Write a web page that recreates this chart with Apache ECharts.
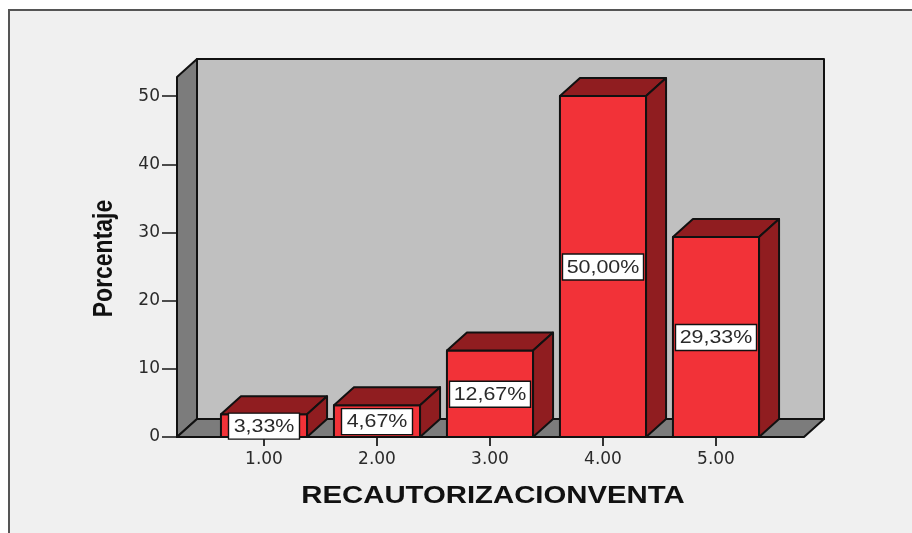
<!DOCTYPE html>
<html><head><meta charset="utf-8">
<style>html,body{margin:0;padding:0;background:#fff}#c{width:912px;height:533px}</style>
<script src="https://cdn.jsdelivr.net/npm/echarts@6/dist/echarts.min.js"></script>
</head><body><div id="c"></div>
<script>
const categories = ['1.00','2.00','3.00','4.00','5.00'];
const percentages = [3.33,4.67,12.67,50.00,29.33];
const yTicks = [0,10,20,30,40,50];
const yMax = 52.8;
const xTitle = 'RECAUTORIZACIONVENTA';
const yTitle = 'Porcentaje';

const DX = 20, DY = 18;
const LEFT_EXT = 30.5, RIGHT_EXT = 31.5, BAR_RATIO = 0.762;
const STROKE = '#111';
const line = {stroke:STROKE,lineWidth:2,lineJoin:'round'};
const poly = (pts,fill)=>({type:'polygon',shape:{points:pts},style:Object.assign({fill},line)});

function renderBox(params,api){
  const c = params.coordSys;
  const l=c.x-LEFT_EXT, r=c.x+c.width+RIGHT_EXT, t=c.y, b=c.y+c.height;
  return {type:'group',children:[
    poly([[l+DX,t-DY],[r+DX,t-DY],[r+DX,b-DY],[l+DX,b-DY]],'#c0c0c0'),
    poly([[l,t],[l+DX,t-DY],[l+DX,b-DY],[l,b]],'#7c7c7c'),
    poly([[l,b],[l+DX,b-DY],[r+DX,b-DY],[r,b]],'#7c7c7c')
  ]};
}
function renderBar(params,api){
  const i=api.value(0), v=api.value(1);
  const top=api.coord([i,v]), base=api.coord([i,0]);
  const w=api.size([1,0])[0]*BAR_RATIO;
  const x0=top[0]-w/2, x1=top[0]+w/2, y0=top[1], y1=base[1];
  const label=percentages[i].toFixed(2).replace('.',',')+'%';
  const bw=label.length===5?71:81, bh=26;
  const cy=Math.min((y0+y1)/2+0.5, y1-10.5);
  return {type:'group',children:[
    poly([[x0,y0],[x1,y0],[x1,y1],[x0,y1]],'#f23238'),
    poly([[x0,y0],[x0+DX,y0-DY],[x1+DX,y0-DY],[x1,y0]],'#901d20'),
    poly([[x1,y0],[x1+DX,y0-DY],[x1+DX,y1-DY],[x1,y1]],'#901d20'),
    {type:'rect',shape:{x:top[0]-bw/2,y:cy-bh/2,width:bw,height:bh},style:{fill:'#fff',stroke:STROKE,lineWidth:1.4}},
    {type:'text',x:top[0],y:cy+0.5,scaleX:1.19,style:{text:label,x:0,y:0,align:'center',verticalAlign:'middle',font:'18px "Liberation Sans"',fill:'#2a2a2a'}}
  ]};
}

const chart = echarts.init(document.getElementById('c'),null,{renderer:'canvas'});
chart.setOption({
  animation:false,
  backgroundColor:'#fff',
  graphic:[
    {type:'rect',z:-10,shape:{x:9,y:10,width:1000,height:1000},style:{fill:'#f0f0f0',stroke:'#555',lineWidth:2}},
    {type:'text',z:5,x:493,y:497,scaleX:1.275,style:{text:xTitle,x:0,y:0,align:'center',verticalAlign:'middle',font:'bold 23px "Liberation Sans"',fill:'#111'}},
    {type:'text',z:5,x:104,y:258.5,rotation:Math.PI/2,scaleX:0.82,style:{text:yTitle,x:0,y:0,align:'center',verticalAlign:'middle',font:'bold 28px "Liberation Sans"',fill:'#111'}}
  ],
  grid:{left:207.5,width:565,top:77,height:360,containLabel:false},
  xAxis:{type:'category',data:categories,boundaryGap:true,
    axisLine:{show:false},
    axisTick:{show:true,alignWithLabel:true,length:9,lineStyle:{color:'#333',width:2}},
    axisLabel:{margin:14,color:'#2a2a2a',fontFamily:'DejaVu Sans',fontSize:17}
  },
  yAxis:{type:'value',min:0,max:yMax,interval:10,offset:LEFT_EXT,
    splitLine:{show:false},axisLine:{show:false},
    axisTick:{show:true,length:15,lineStyle:{color:'#222',width:1.6},customValues:yTicks},
    axisLabel:{margin:17,color:'#2a2a2a',fontFamily:'DejaVu Sans',fontSize:17,customValues:yTicks}
  },
  series:[
    {type:'custom',coordinateSystem:'cartesian2d',z:1,silent:true,data:[[0,0]],renderItem:renderBox,clip:false},
    {type:'custom',coordinateSystem:'cartesian2d',z:2,silent:true,
      data:percentages.map((v,i)=>[i,v]),encode:{x:0,y:1},renderItem:renderBar,clip:false}
  ]
});
</script></body></html>
